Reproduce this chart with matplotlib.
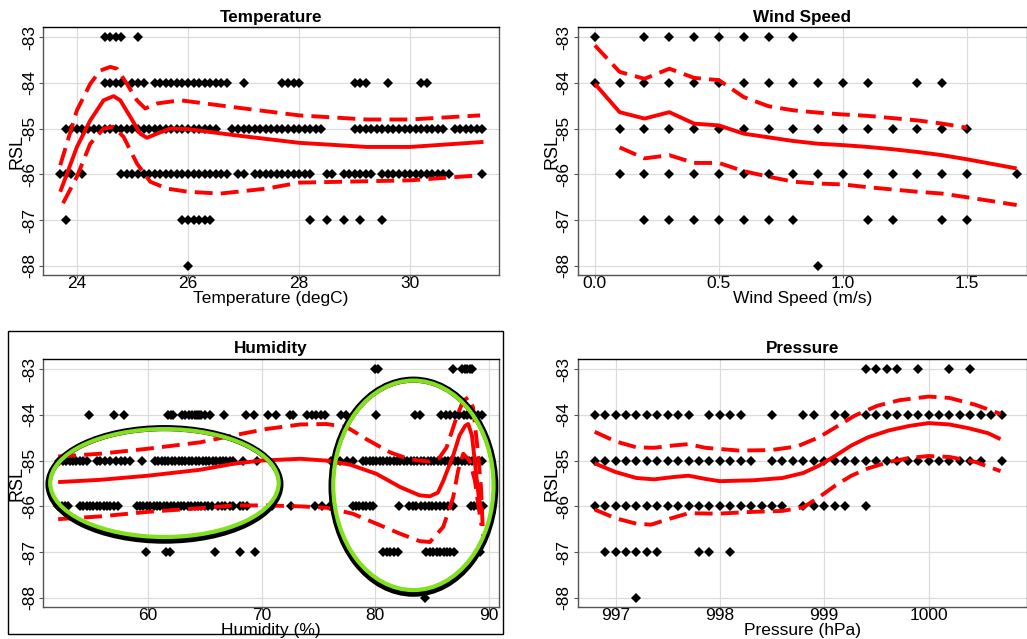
import matplotlib
matplotlib.use("Agg")
import matplotlib.pyplot as plt
from matplotlib.patches import Ellipse, Rectangle

plt.rcParams['font.family'] = ['Liberation Sans', 'DejaVu Sans']

rsl_levels = [-83, -84, -85, -86, -87, -88]

# ---- Temperature (degC) observations per RSL level
temp_pts = {
    -83: [24.5, 24.6, 24.7, 24.8, 25.1],
    -84: [24.5, 24.6, 24.7, 24.8, 25.0, 25.1, 25.2, 25.4, 25.5, 25.6, 25.7, 25.8, 25.9,
          26.0, 26.1, 26.2, 26.3, 26.4, 26.5, 26.6, 26.7, 27.0, 27.7, 27.8, 27.9, 28.0,
          29.0, 29.1, 29.2, 29.6, 30.2, 30.3],
    -85: [23.8, 23.9, 24.0, 24.1, 24.2, 24.3, 24.4, 24.5, 24.6, 24.7, 24.8, 24.9, 25.0,
          25.1, 25.2, 25.3, 25.4, 25.5, 25.6, 25.7, 25.8, 25.9, 26.0, 26.1, 26.2, 26.3,
          26.4, 26.5, 26.8, 26.9, 27.0, 27.1, 27.2, 27.3, 27.4, 27.5, 27.6, 27.7, 27.8,
          27.9, 28.0, 28.1, 28.2, 28.3, 28.4, 29.0, 29.1, 29.2, 29.3, 29.4, 29.5, 29.6,
          29.7, 29.8, 29.9, 30.0, 30.1, 30.2, 30.3, 30.4, 30.5, 30.6, 30.8, 30.9, 31.0,
          31.1, 31.2, 31.3],
    -86: [23.7, 23.8, 23.9, 24.1, 24.8, 24.9, 25.0, 25.1, 25.2, 25.3, 25.4, 25.5, 25.6,
          25.7, 25.8, 25.9, 26.0, 26.1, 26.2, 26.3, 26.4, 26.5, 26.6, 26.7, 26.9, 27.0,
          27.2, 27.3, 27.4, 27.5, 27.6, 27.7, 27.8, 27.9, 28.0, 28.1, 28.2, 28.5, 28.6,
          28.8, 28.9, 29.0, 29.1, 29.2, 29.3, 29.5, 29.6, 29.7, 29.8, 29.9, 30.0, 30.1,
          30.2, 30.3, 30.4, 30.5, 30.6, 30.7, 31.3],
    -87: [23.8, 25.9, 26.0, 26.1, 26.2, 26.3, 26.4, 28.2, 28.5, 28.8, 29.1, 29.5],
    -88: [26.0],
}
temp_fit_x = [23.7, 24.0, 24.24, 24.48, 24.66, 24.78, 24.96, 25.14, 25.26, 25.44, 25.68,
              26.0, 26.82, 28.0, 29.22, 30.0, 31.32]
temp_fit = [-86.38, -85.4, -84.82, -84.38, -84.29, -84.38, -84.74, -85.11, -85.2, -85.11,
            -85.0, -85.01, -85.14, -85.31, -85.4, -85.4, -85.29]
temp_hi_x = [23.7, 24.0, 24.24, 24.42, 24.6, 24.72, 24.9, 25.08, 25.23, 25.44, 25.86,
             26.82, 28.0, 29.22, 30.0, 31.26]
temp_hi = [-85.8, -84.6, -84.02, -83.73, -83.65, -83.69, -84.02, -84.38, -84.56, -84.45,
           -84.38, -84.53, -84.71, -84.8, -84.8, -84.71]
temp_lo_x = [23.75, 24.0, 24.24, 24.48, 24.66, 24.84, 25.08, 25.32, 25.62, 26.0, 26.58,
             27.42, 28.0, 29.22, 30.0, 31.26]
temp_lo = [-86.63, -86.05, -85.33, -85.0, -84.96, -85.18, -85.76, -86.16, -86.31, -86.38,
           -86.42, -86.31, -86.18, -86.15, -86.13, -86.02]

# ---- Wind speed (m/s)
wind_pts = {
    -83: [0.0, 0.2, 0.3, 0.4, 0.5, 0.6, 0.7, 0.8],
    -84: [0.0, 0.1, 0.2, 0.3, 0.4, 0.5, 0.6, 0.7, 0.8, 0.9, 1.0, 1.1, 1.3, 1.4],
    -85: [0.1, 0.2, 0.3, 0.4, 0.5, 0.6, 0.7, 0.8, 0.9, 1.0, 1.1, 1.2, 1.3, 1.4, 1.5],
    -86: [0.1, 0.2, 0.3, 0.4, 0.5, 0.6, 0.7, 0.8, 0.9, 1.0, 1.1, 1.2, 1.3, 1.4, 1.5, 1.7],
    -87: [0.2, 0.3, 0.4, 0.5, 0.6, 0.7, 0.8, 1.1, 1.2, 1.4, 1.5],
    -88: [0.9],
}
wind_fit_x = [0.0, 0.1, 0.2, 0.3, 0.4, 0.5, 0.6, 0.7, 0.8, 0.9, 1.0, 1.1, 1.2, 1.3, 1.4, 1.5, 1.7]
wind_fit = [-84.02, -84.64, -84.78, -84.64, -84.89, -84.93, -85.11, -85.19, -85.27, -85.33,
            -85.36, -85.4, -85.45, -85.51, -85.58, -85.67, -85.87]
wind_hi_x = [0.0, 0.1, 0.2, 0.3, 0.4, 0.5, 0.6, 0.7, 0.8, 0.9, 1.0, 1.1, 1.2, 1.3, 1.4, 1.5]
wind_hi = [-83.18, -83.76, -83.91, -83.69, -83.89, -83.94, -84.31, -84.51, -84.6, -84.65,
           -84.69, -84.72, -84.77, -84.82, -84.89, -84.98]
wind_lo_x = [0.1, 0.2, 0.3, 0.4, 0.5, 0.6, 0.7, 0.8, 0.9, 1.0, 1.1, 1.2, 1.3, 1.4, 1.5, 1.7]
wind_lo = [-85.41, -85.65, -85.58, -85.75, -85.75, -85.93, -86.05, -86.16, -86.2, -86.22,
           -86.28, -86.33, -86.38, -86.42, -86.5, -86.67]

# ---- Humidity (%)
hum_pts = {
    -83: [80.0, 80.2, 86.8, 87.6, 87.9, 88.1, 88.3, 88.5],
    -84: [54.8, 57.0, 57.9, 61.8, 62.0, 62.2, 63.0, 63.3, 63.6, 63.9, 64.1, 64.3, 64.5,
          64.7, 65.0, 65.5, 66.7, 68.6, 69.3, 70.6, 71.3, 72.5, 72.8, 74.0, 74.4, 74.8,
          75.2, 75.6, 77.0, 77.4, 80.1, 83.5, 83.9, 85.8, 86.2, 86.6, 87.0, 87.4, 87.8,
          88.1, 88.4, 88.7, 89.0, 89.4],
    -85: [52.2, 52.5, 52.8, 53.1, 53.4, 53.7, 54.0, 54.3, 54.6, 55.5, 55.8, 56.2, 56.7,
          57.2, 57.6, 58.0, 58.4, 59.5, 60.6, 60.9, 61.2, 61.5, 61.8, 62.1, 62.4, 62.7,
          63.0, 63.3, 63.6, 63.9, 64.2, 64.5, 64.8, 65.1, 65.4, 65.7, 66.0, 66.3, 66.6,
          66.9, 67.2, 67.5, 68.4, 69.6, 76.1, 76.5, 76.9, 77.5, 78.0, 78.9, 79.2, 79.5,
          79.8, 80.1, 80.4, 80.7, 81.0, 81.3, 81.6, 81.9, 82.2, 82.5, 82.8, 83.1, 83.4,
          83.7, 84.0, 84.3, 84.6, 84.9, 85.2, 85.5, 85.8, 86.1, 86.4, 86.7, 87.0, 87.3,
          87.6, 87.9, 88.2, 88.5, 88.8, 89.1, 89.4],
    -86: [52.1, 52.4, 52.7, 53.0, 54.0, 54.3, 54.6, 54.9, 55.2, 55.5, 55.8, 56.1, 56.4,
          56.7, 57.0, 57.4, 59.0, 59.3, 59.6, 59.9, 60.2, 60.5, 60.8, 61.1, 61.4, 61.7,
          62.0, 62.3, 62.6, 62.9, 63.2, 63.5, 63.8, 64.1, 64.4, 64.7, 65.0, 65.3, 65.6,
          66.2, 66.5, 66.8, 67.2, 67.5, 68.1, 68.4, 68.7, 70.9, 72.6, 74.7, 75.3, 76.0,
          78.0, 78.3, 78.6, 78.9, 79.2, 79.5, 79.8, 82.1, 83.0, 83.3, 83.6, 84.0, 84.4,
          84.7, 85.0, 85.3, 85.7, 86.0, 86.4, 86.8, 88.4, 88.7, 89.0, 89.3, 89.5],
    -87: [59.8, 61.6, 61.9, 65.9, 68.1, 69.4, 80.7, 81.0, 81.3, 81.6, 82.0, 84.5, 84.8,
          85.1, 85.4, 85.7, 86.0, 86.3, 86.6, 86.9, 89.2],
    -88: [84.4],
}
hum_fit_x = [52.1, 55.8, 60.0, 64.6, 67.5, 69.9, 73.4, 75.7, 77.8, 80.1, 82.2, 83.9, 84.8,
             85.5, 86.0, 86.9, 87.4, 87.9, 88.17, 88.5, 88.9, 89.1, 89.34]
hum_fit = [-85.47, -85.42, -85.33, -85.2, -85.07, -85.0, -84.96, -85.0, -85.09, -85.29,
           -85.58, -85.76, -85.78, -85.7, -85.43, -84.85, -84.45, -84.24, -84.2, -84.45,
           -85.36, -85.8, -86.09]
hum_hi_x = [52.1, 55.8, 60.0, 64.6, 67.5, 70.4, 73.4, 75.7, 77.5, 79.2, 81.3, 83.0, 83.9,
            84.8, 85.6, 86.27, 87.15, 87.73, 88.17, 88.6, 89.04, 89.3, 89.48]
hum_hi = [-84.91, -84.85, -84.74, -84.6, -84.45, -84.31, -84.21, -84.2, -84.27, -84.53,
          -84.82, -84.97, -85.0, -85.02, -84.95, -84.71, -84.05, -83.69, -83.62, -83.84,
          -84.85, -85.6, -86.66]
hum_lo_x = [52.1, 55.8, 60.0, 64.6, 67.5, 70.4, 73.4, 75.7, 78.0, 80.1, 82.2, 83.9, 84.8,
            85.97, 86.85, 87.28, 87.73, 88.3, 88.75, 89.13, 89.34]
hum_lo = [-86.28, -86.22, -86.12, -86.04, -85.98, -85.98, -86.0, -86.03, -86.16, -86.38,
          -86.6, -86.76, -86.78, -86.45, -85.8, -85.22, -84.85, -85.0, -85.43, -86.09, -86.42]

# ---- Pressure (hPa)
pres_pts = {
    -83: [999.4, 999.5, 999.6, 999.7, 999.9, 1000.2, 1000.4],
    -84: [996.8, 996.9, 997.0, 997.1, 997.2, 997.3, 997.4, 997.5, 997.6, 997.7, 997.9,
          998.0, 998.1, 998.2, 998.5, 998.8, 998.9, 999.1, 999.2, 999.4, 999.5, 999.6,
          999.7, 999.8, 999.9, 1000.0, 1000.1, 1000.2, 1000.3, 1000.4, 1000.5, 1000.6,
          1000.7],
    -85: [996.8, 996.9, 997.0, 997.1, 997.2, 997.3, 997.4, 997.5, 997.6, 997.7, 997.8,
          997.9, 998.0, 998.1, 998.2, 998.3, 998.5, 998.6, 998.7, 998.8, 998.9, 999.0,
          999.1, 999.2, 999.3, 999.4, 999.5, 999.6, 999.7, 999.8, 999.9, 1000.0, 1000.1,
          1000.2, 1000.3, 1000.4, 1000.5, 1000.7],
    -86: [996.8, 996.9, 997.0, 997.1, 997.2, 997.3, 997.4, 997.5, 997.6, 997.7, 997.8,
          997.9, 998.0, 998.1, 998.2, 998.3, 998.4, 998.5, 998.6, 998.8, 998.9, 999.0,
          999.1, 999.2, 999.4],
    -87: [996.9, 997.0, 997.1, 997.2, 997.3, 997.4, 997.8, 997.9, 998.1],
    -88: [997.2],
}
pres_fit_x = [996.8, 997.0, 997.2, 997.37, 997.55, 997.7, 997.86, 998.0, 998.32, 998.6,
              998.8, 998.95, 999.11, 999.26, 999.42, 999.62, 999.82, 1000.0, 1000.2,
              1000.38, 1000.57, 1000.69]
pres_fit = [-85.06, -85.25, -85.38, -85.41, -85.36, -85.33, -85.4, -85.45, -85.43, -85.38,
            -85.27, -85.11, -84.89, -84.67, -84.49, -84.34, -84.24, -84.18, -84.21, -84.29,
            -84.4, -84.53]
pres_hi_x = [996.8, 997.0, 997.2, 997.37, 997.55, 997.7, 997.86, 998.18, 998.49, 998.74,
             998.95, 999.11, 999.29, 999.51, 999.72, 1000.0, 1000.2, 1000.45, 1000.69]
pres_hi = [-84.37, -84.58, -84.71, -84.72, -84.67, -84.64, -84.72, -84.78, -84.77, -84.69,
           -84.49, -84.27, -84.02, -83.8, -83.68, -83.6, -83.63, -83.78, -83.98]
pres_lo_x = [996.8, 997.0, 997.2, 997.34, 997.52, 997.7, 997.98, 998.32, 998.6, 998.8,
             998.95, 999.11, 999.26, 999.42, 999.62, 999.82, 1000.0, 1000.2, 1000.45,
             1000.69]
pres_lo = [-86.07, -86.26, -86.38, -86.4, -86.27, -86.15, -86.16, -86.12, -86.1, -86.02,
           -85.8, -85.54, -85.33, -85.17, -85.03, -84.94, -84.9, -84.92, -85.03, -85.23]

# ellipses highlighting the humidity clusters: (centre x, centre y, width, height)
hum_rings = [(61.45, -85.49, 20.1, 2.36), (83.35, -85.54, 14.1, 4.58)]


def draw_panel(ax, title, xlabel, pts, fit, hi, lo, xlim, xticks, xfmt="{:g}"):
    ax.set_xlim(*xlim)
    ax.set_ylim(-88.2, -82.78)
    ax.set_yticks(rsl_levels)
    ax.set_yticklabels([str(v) for v in rsl_levels], rotation=90, va='center', fontsize=12.5)
    ax.set_xticks(xticks)
    ax.set_xticklabels([xfmt.format(v) for v in xticks], fontsize=12.5)
    ax.grid(True, color='#dcdcdc', lw=0.9)
    ax.set_axisbelow(True)
    for side in ['left', 'bottom', 'right']:
        ax.spines[side].set_color('#555555')
    ax.spines['top'].set_color('black')
    for sp in ax.spines.values():
        sp.set_linewidth(1.0)
    ax.tick_params(axis='y', length=3, width=0.8, color='#555555', pad=1.5)
    ax.tick_params(axis='x', length=2.5, width=0.8, color='#555555', pad=-1.5)

    for lvl in rsl_levels:
        xs = pts[lvl]
        ax.plot(xs, [lvl] * len(xs), 'D', color='black', ms=5.3, mew=0, zorder=3)

    ax.plot(fit[0], fit[1], color='red', lw=2.8, solid_capstyle='butt', zorder=4)
    for band in (hi, lo):
        ax.plot(band[0], band[1], color='red', lw=2.8, dashes=(4.6, 2.1), zorder=4)

    ax.set_title(title, fontsize=12.3, fontweight='bold', pad=4)
    ax.set_xlabel(xlabel, fontsize=12.5, labelpad=0)
    ax.set_ylabel('RSL', fontsize=13, labelpad=-3)


fig = plt.figure(figsize=(10.27, 6.39), dpi=100)

ax_t = fig.add_axes([0.0419, 0.5696, 0.444, 0.388])
ax_w = fig.add_axes([0.5628, 0.5696, 0.4368, 0.388])
ax_h = fig.add_axes([0.0419, 0.0501, 0.444, 0.388])
ax_p = fig.add_axes([0.5628, 0.0501, 0.4368, 0.388])

draw_panel(ax_t, 'Temperature', 'Temperature (degC)', temp_pts,
           (temp_fit_x, temp_fit), (temp_hi_x, temp_hi), (temp_lo_x, temp_lo),
           (23.39, 31.6), [24, 26, 28, 30])
draw_panel(ax_w, 'Wind Speed', 'Wind Speed (m/s)', wind_pts,
           (wind_fit_x, wind_fit), (wind_hi_x, wind_hi), (wind_lo_x, wind_lo),
           (-0.068, 1.74), [0.0, 0.5, 1.0, 1.5], "{:.1f}")
draw_panel(ax_h, 'Humidity', 'Humidity (%)', hum_pts,
           (hum_fit_x, hum_fit), (hum_hi_x, hum_hi), (hum_lo_x, hum_lo),
           (50.77, 90.88), [60, 70, 80, 90])
draw_panel(ax_p, 'Pressure', 'Pressure (hPa)', pres_pts,
           (pres_fit_x, pres_fit), (pres_hi_x, pres_hi), (pres_lo_x, pres_lo),
           (996.64, 1000.94), [997, 998, 999, 1000])

# highlight rings on the humidity panel: dark outline under a lime ring
for cx, cy, w, h in hum_rings:
    ax_h.add_patch(Ellipse((cx, cy - 0.03), w + 0.3, h + 0.1, fill=False,
                           edgecolor='black', lw=4.4, zorder=5))
    ax_h.add_patch(Ellipse((cx, cy), w, h, fill=False,
                           edgecolor='#82e01e', lw=3.0, zorder=6))

# frame around the humidity panel
fig.patches.append(Rectangle((0.0078, 0.0078), 0.482, 0.474, transform=fig.transFigure,
                             fill=False, edgecolor='black', lw=1.0))

fig.savefig('out.png', dpi=100)
